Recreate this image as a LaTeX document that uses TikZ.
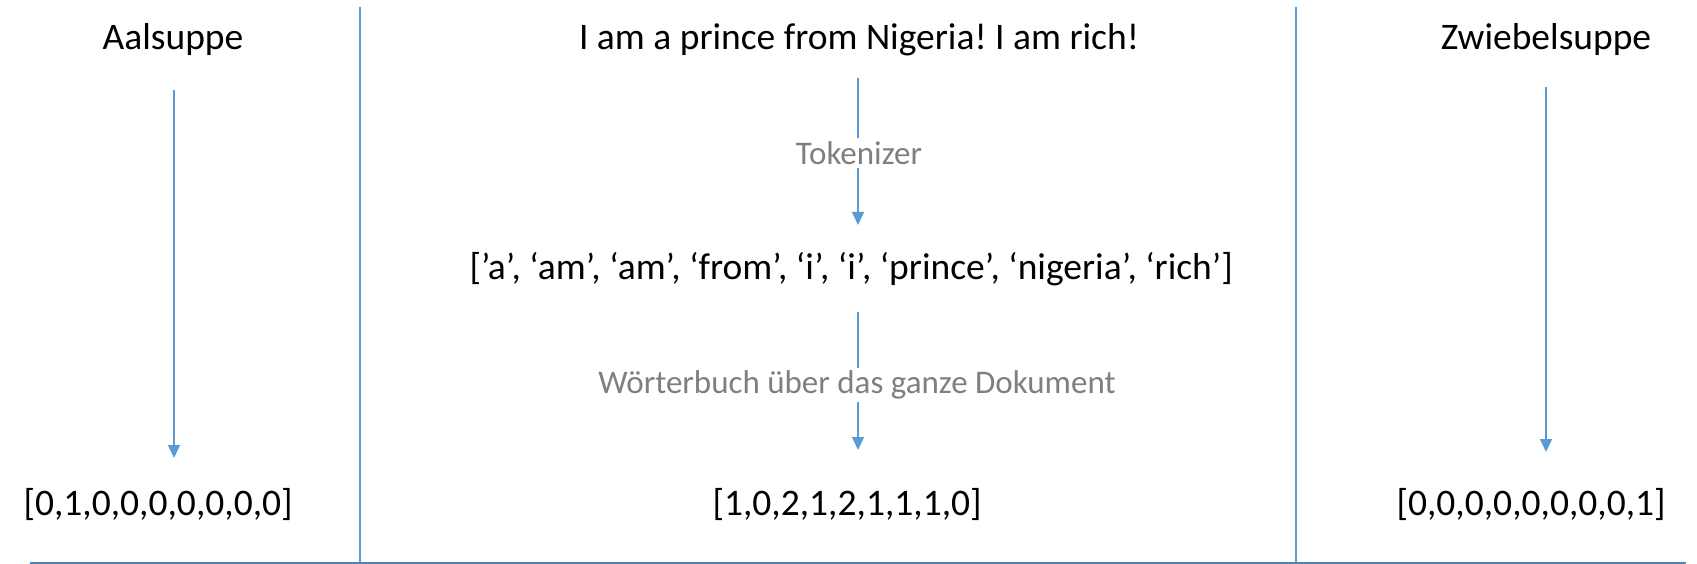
\documentclass[tikz,border=0pt]{standalone}
\usepackage{fontspec}
\setmainfont{Carlito}
\usetikzlibrary{arrows.meta}
\definecolor{lineblue}{HTML}{5B9BD5}
\definecolor{labelgray}{HTML}{7F7F7F}
\frenchspacing
\tikzset{
  txt/.style={inner sep=0pt, font=\fontsize{37.5}{44}\selectfont, text=black},
  lbl/.style={inner sep=3pt, fill=white, font=\fontsize{33}{40}\selectfont, text=labelgray},
  sep/.style={draw=lineblue, line width=1.4pt},
  arr/.style={draw=lineblue, line width=1.5pt, -{Triangle[width=12pt,length=13pt]}},
}
\begin{document}
\begin{tikzpicture}[x=1pt,y=-1pt]
\useasboundingbox (0,0) rectangle (1697,564);
% separators
\coordinate (s1t) at (360,7);
\coordinate (s1b) at (360,563);
\coordinate (s2t) at (1296,7);
\coordinate (s2b) at (1296,563);
\coordinate (bl) at (30,563);
\coordinate (br) at (1686,563);
\draw[sep] (s1t) -- (s1b);
\draw[sep] (s2t) -- (s2b);
\draw[sep, draw=lineblue!85!black] (bl) -- (br);
% texts
\node[txt] (t1) at (173,40) {Aalsuppe};
\node[txt] (t2) at (859,40) {I am a prince from Nigeria! I am rich!};
\node[txt] (t3) at (1546,40) {Zwiebelsuppe};
\node[txt] (list) at (851,269) {[’a’, ‘am’, ‘am’, ‘from’, ‘i’, ‘i’, ‘prince’, ‘nigeria’, ‘rich’]};
\node[txt] (v1) at (158,505) {[0,1,0,0,0,0,0,0,0]};
\node[txt] (v2) at (847,505) {[1,0,2,1,2,1,1,1,0]};
\node[txt] (v3) at (1531,505) {[0,0,0,0,0,0,0,0,1]};
% arrow endpoints
\coordinate (a1s) at (174,90);
\coordinate (a1e) at (174,458);
\coordinate (a3s) at (1546,87);
\coordinate (a3e) at (1546,452);
\coordinate (c1s) at (858,78);
\coordinate (c1e) at (858,225);
\coordinate (c2s) at (858,312);
\coordinate (c2e) at (858,450);
\draw[arr] (a1s) -- (a1e);
\draw[arr] (a3s) -- (a3e);
\draw[arr] (c1s) -- (c1e);
\draw[arr] (c2s) -- (c2e);
\node[lbl] (tok) at (859,153) {Tokenizer};
\node[lbl] (wb) at (857,385) {Wörterbuch über das ganze Dokument};
\end{tikzpicture}
\end{document}
